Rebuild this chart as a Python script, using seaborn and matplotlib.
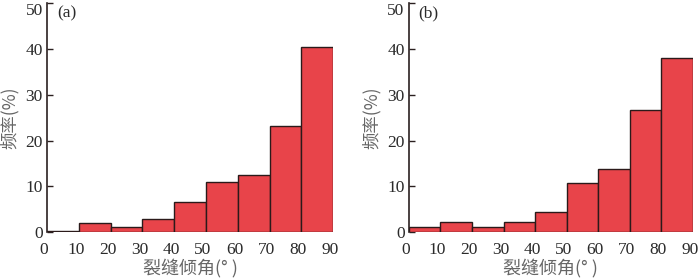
import matplotlib.pyplot as plt
import matplotlib.transforms as mtransforms
import seaborn as sns

# Bin edges and frequencies (%)
edges = [0, 10, 20, 30, 40, 50, 60, 70, 80, 90]
centers = [5, 15, 25, 35, 45, 55, 65, 75, 85]
freq_a = [0.3, 2.0, 1.15, 2.9, 6.5, 10.9, 12.4, 23.2, 40.4]
freq_b = [1.1, 2.2, 1.1, 2.2, 4.3, 10.7, 13.8, 26.6, 38.1]
panel_labels = ['(a)', '(b)']
yticks = [0, 10, 20, 30, 40, 50]

sns.set_style('white')
plt.rcParams['font.family'] = ['Liberation Serif', 'Noto Sans CJK SC']

fig = plt.figure(figsize=(7, 2.78), dpi=100)
ax1 = fig.add_axes([0.067, 0.165, 0.409, 0.824])
ax2 = fig.add_axes([0.584, 0.165, 0.406, 0.824])

cjk = ['Noto Sans CJK SC', 'Liberation Serif']
shift = mtransforms.ScaledTranslation(-3 / 100, 0, fig.dpi_scale_trans)

for ax, freq, lab in zip([ax1, ax2], [freq_a, freq_b], panel_labels):
    sns.histplot(x=centers, weights=freq, bins=edges, ax=ax,
                 color='#e8444a', alpha=1, edgecolor='#2b1a1a', linewidth=1)
    ax.set_xlim(0, 90)
    ax.set_ylim(0, 50)
    ax.set_xticks(edges)
    ax.set_yticks(yticks)
    ax.tick_params(axis='y', direction='in', length=4, width=1, color='#2b2020',
                   labelsize=12.5, pad=3, left=True, labelcolor='#2a2a2a')
    ax.tick_params(axis='x', length=0, labelsize=12.5, pad=7, labelcolor='#2a2a2a')
    # top tick label sits below its tick, as in the reference
    ax.yaxis.get_major_ticks()[-1].label1.set_va('top')
    for t in ax.get_xticklabels():
        t.set_transform(t.get_transform() + shift)
    for s in ['top', 'right', 'bottom']:
        ax.spines[s].set_visible(False)
    ax.spines['left'].set_color('#2b2020')
    ax.spines['left'].set_linewidth(1.2)
    ax.set_xlabel('裂缝倾角(° )', fontsize=13, color='#666666', family=cjk, labelpad=1)
    ax.set_ylabel('频率(%)', fontsize=12.5, color='#666666', family=cjk, labelpad=5)
    ax.text(0.035, 0.99, lab, transform=ax.transAxes, fontsize=12.5,
            va='top', ha='left', color='#2a2a2a')

fig.savefig('out.png', dpi=100)
